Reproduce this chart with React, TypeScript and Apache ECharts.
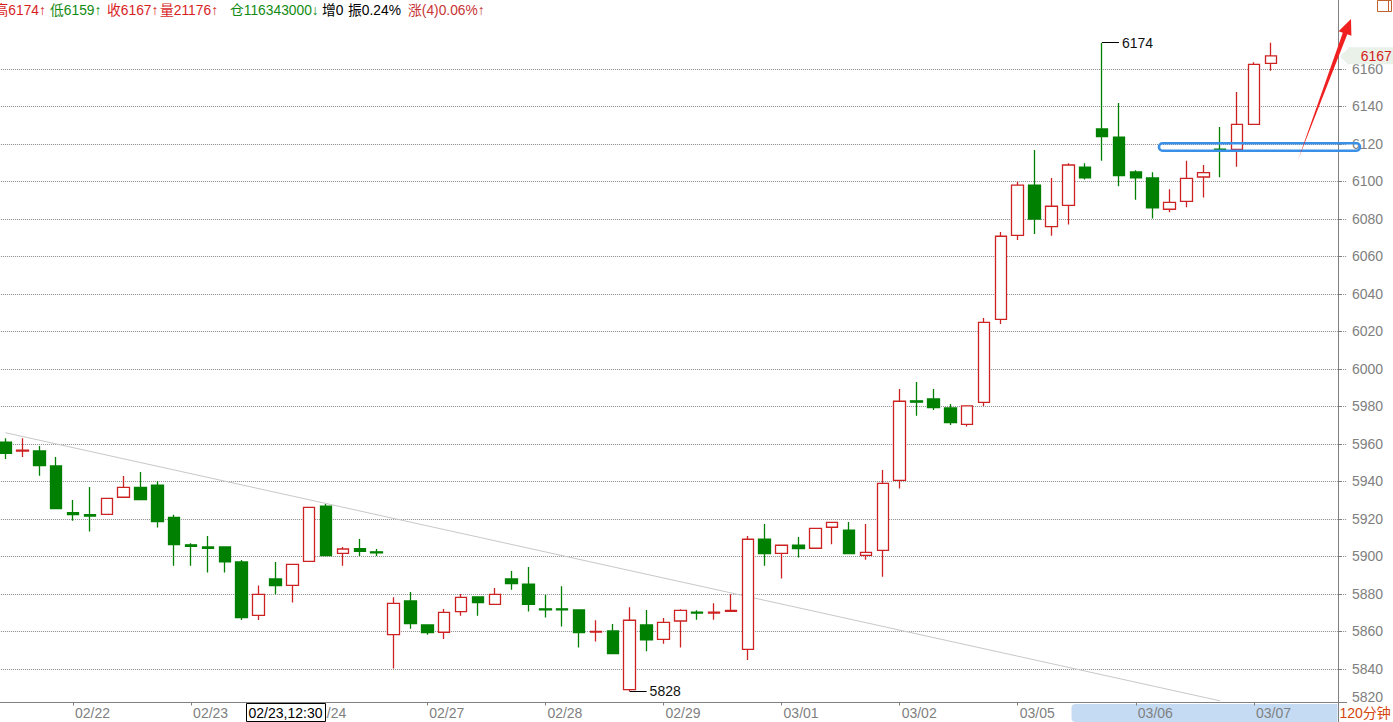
import { useEffect, useRef } from 'react';
import * as echarts from 'echarts';

// ---------- data ----------
const dayNames = ['02/21', '02/22', '02/23', '02/24', '02/27', '02/28', '02/29', '03/01', '03/02', '03/05', '03/06', '03/07'];
const barsPerDay = [4, 7, 7, 7, 7, 7, 7, 7, 7, 7, 7, 2];
const emptySlots = 4;

// [open, close, low, high]
const candles: number[][] = [
  [5961, 5955, 5952, 5963],
  [5956.2, 5956.7, 5953, 5963],
  [5956.3, 5948.5, 5943.1, 5958.9],
  [5948.3, 5925.5, 5925.5, 5953.1],
  [5923.4, 5922.3, 5919.1, 5930.1],
  [5922.3, 5921.6, 5913.3, 5937.1],
  [5922.5, 5931.0, 5922.5, 5931.0],
  [5931.6, 5936.9, 5931.6, 5942.9],
  [5936.9, 5930.3, 5930.3, 5945.1],
  [5938.1, 5918.6, 5915.4, 5940.1],
  [5920.9, 5906.3, 5895.1, 5922.2],
  [5906.2, 5905.4, 5895.1, 5907.0],
  [5905.1, 5904.3, 5891.4, 5910.9],
  [5905.1, 5897.2, 5891.4, 5905.1],
  [5897.1, 5867.4, 5866.1, 5898.1],
  [5868.6, 5879.8, 5866.1, 5884.5],
  [5888.0, 5884.5, 5879.8, 5897.1],
  [5884.6, 5895.8, 5875.4, 5895.8],
  [5897.4, 5926.2, 5897.4, 5926.2],
  [5926.9, 5900.5, 5900.5, 5928.0],
  [5901.7, 5904.0, 5895.1, 5905.1],
  [5904.2, 5902.8, 5900.3, 5909.3],
  [5902.5, 5901.9, 5900.3, 5904.0],
  [5858.3, 5875.0, 5840.2, 5878.2],
  [5876.3, 5864.2, 5861.5, 5881.1],
  [5863.5, 5859.4, 5858.3, 5863.5],
  [5859.6, 5870.2, 5856.0, 5872.0],
  [5870.6, 5878.2, 5868.4, 5880.0],
  [5878.4, 5875.4, 5868.4, 5878.4],
  [5874.5, 5879.8, 5874.5, 5883.2],
  [5888.0, 5885.5, 5882.3, 5892.3],
  [5885.3, 5874.5, 5870.6, 5894.4],
  [5872.1, 5871.5, 5867.4, 5879.6],
  [5872.1, 5871.5, 5862.6, 5884.1],
  [5871.5, 5859.4, 5851.4, 5871.5],
  [5859.7, 5860.1, 5854.6, 5866.0],
  [5860.3, 5848.2, 5848.2, 5864.0],
  [5829.0, 5866.0, 5828.0, 5872.9],
  [5863.5, 5855.6, 5849.4, 5871.5],
  [5855.8, 5864.9, 5853.5, 5867.2],
  [5865.6, 5871.3, 5851.4, 5871.8],
  [5870.3, 5869.8, 5866.3, 5871.3],
  [5869.8, 5870.3, 5866.3, 5875.0],
  [5870.8, 5871.3, 5870.8, 5879.8],
  [5850.5, 5909.2, 5844.8, 5910.9],
  [5909.3, 5901.5, 5895.1, 5917.3],
  [5901.7, 5906.0, 5888.2, 5906.0],
  [5906.1, 5904.2, 5899.4, 5910.4],
  [5904.4, 5915.0, 5904.4, 5915.0],
  [5915.6, 5918.2, 5906.5, 5918.2],
  [5914.1, 5901.5, 5901.5, 5918.4],
  [5900.6, 5902.2, 5898.3, 5917.3],
  [5903.3, 5939.0, 5889.2, 5946.1],
  [5940.6, 5982.8, 5936.2, 5989.3],
  [5983.0, 5982.3, 5975.1, 5993.1],
  [5984.0, 5979.4, 5978.1, 5989.3],
  [5979.2, 5971.4, 5970.1, 5981.3],
  [5970.5, 5980.3, 5969.3, 5980.3],
  [5982.2, 6024.9, 5980.3, 6027.2],
  [6026.5, 6070.8, 6024.0, 6073.1],
  [6071.3, 6098.1, 6068.8, 6099.9],
  [6098.1, 6080.0, 6072.0, 6116.8],
  [6075.9, 6086.8, 6071.1, 6101.9],
  [6087.3, 6108.8, 6077.0, 6109.7],
  [6107.7, 6102.0, 6101.0, 6109.7],
  [6128.0, 6123.9, 6111.1, 6174.0],
  [6123.7, 6103.1, 6097.4, 6141.9],
  [6105.1, 6102.0, 6090.3, 6106.0],
  [6101.9, 6086.0, 6080.2, 6104.9],
  [6085.2, 6088.9, 6083.6, 6095.8],
  [6089.4, 6101.7, 6086.2, 6111.0],
  [6102.4, 6104.7, 6091.4, 6108.8],
  [6117.2, 6116.8, 6102.2, 6129.1],
  [6117.1, 6130.5, 6107.9, 6147.7],
  [6130.5, 6162.5, 6130.5, 6163.6],
  [6163.0, 6167.0, 6159.0, 6174.0],
];

const yLabelValues = [5820, 5840, 5860, 5880, 5900, 5920, 5940, 5960, 5980, 6000, 6020, 6040, 6060, 6080, 6100, 6120, 6140, 6160];
const yGridValues = [5840, 5860, 5880, 5900, 5920, 5940, 5960, 5980, 6000, 6020, 6040, 6060, 6080, 6100, 6120, 6140, 6160];

const highMark = { index: 65, value: 6174 };
const lowMark = { index: 37, value: 5828 };
const lastPrice = 6167;
const trendLine = [[0, 5966], [72, 5823]];

const headerParts = [
  { text: '高6174↑', color: '#d81e1e' },
  { text: '低6159↑', color: '#138a13' },
  { text: '收6167↑', color: '#d81e1e' },
  { text: '量21176↑', color: '#d81e1e' },
  { text: '仓116343000↓', color: '#138a13' },
  { text: '增0', color: '#000000' },
  { text: '振0.24%', color: '#000000' },
  { text: '涨(4)0.06%↑', color: '#c83434' },
];
const headerX = [-5.5, 50, 107, 160, 230, 322, 348, 408];

const cursorLabel = '02/23,12:30';
const periodLabel = '120分钟';

const FONT = "'Liberation Sans', Arial, 'Noto Sans CJK SC', sans-serif";
const UP = '#cc2222';
const DOWN = '#008000';

export default function App() {
  const ref = useRef<HTMLDivElement>(null);

  useEffect(() => {
    if (!ref.current) return;
    const chart = echarts.init(ref.current, null, { renderer: 'svg' });

    const categories: string[] = [];
    dayNames.forEach((d, di) => {
      for (let k = 0; k < barsPerDay[di]; k++) categories.push(`${d}#${k}`);
    });
    for (let k = 0; k < emptySlots; k++) categories.push(`#e${k}`);
    const isDayStart = (i: number) => {
      const c = categories[i] || '';
      return c.endsWith('#0') && !c.startsWith('#') && !c.startsWith(dayNames[0]);
    };

    const band = 16.87;
    const gridLeft = -2.9;
    const gridRightEdge = gridLeft + categories.length * band;
    const axisX = 1338;

    const headerGraphics = headerParts.map((p, i) => ({
      type: 'text',
      x: headerX[i],
      y: 10,
      silent: true,
      style: {
        text: p.text,
        fill: p.color,
        fontSize: 13.8,
        fontFamily: FONT,
        verticalAlign: 'middle',
        textVerticalAlign: 'middle',
      },
    }));

    const option: any = {
      animation: false,
      backgroundColor: '#ffffff',
      textStyle: { fontFamily: FONT },
      grid: {
        left: gridLeft,
        right: 1393 - gridRightEdge,
        top: 0,
        bottom: 0,
        outerBoundsMode: 'none',
      },
      xAxis: {
        type: 'category',
        data: categories,
        boundaryGap: true,
        offset: -19.5,
        axisLine: { show: true, lineStyle: { color: '#808080', width: 1 } },
        axisTick: {
          show: true,
          alignWithLabel: true,
          length: 3,
          interval: (i: number) => isDayStart(i),
          lineStyle: { color: '#808080' },
        },
        axisLabel: {
          show: true,
          interval: (i: number) => isDayStart(i),
          formatter: (v: string) => v.split('#')[0],
          align: 'left',
          color: '#808080',
          fontSize: 14,
          fontFamily: FONT,
          margin: 3,
          padding: [0, 0, 0, 2],
        },
        splitLine: { show: false },
      },
      yAxis: {
        type: 'value',
        position: 'right',
        min: 5811.73,
        max: 6196.8,
        offset: axisX - gridRightEdge,
        axisLine: { show: true, lineStyle: { color: '#808080', width: 1 } },
        axisTick: {
          show: true,
          length: 4,
          customValues: yGridValues,
          lineStyle: { color: '#808080' },
        },
        axisLabel: {
          show: true,
          customValues: yLabelValues,
          color: '#808080',
          fontSize: 14,
          fontFamily: FONT,
          margin: 14,
          formatter: (v: number) => (v === 5820 ? '{lo|5820}' : String(v)),
          rich: {
            lo: { padding: [0, 0, 19, 0], color: '#808080', fontSize: 14, fontFamily: FONT },
          },
        },
        splitLine: { show: true, lineStyle: { color: '#8a8a8a', type: [1, 1], width: 1 } },
      },
      series: [
        {
          type: 'line',
          data: trendLine,
          symbol: 'none',
          silent: true,
          z: 1,
          lineStyle: { color: '#c8c8c8', width: 1 },
        },
        {
          type: 'candlestick',
          data: candles.map((c) => c.slice()),
          barWidth: 12,
          z: 3,
          itemStyle: {
            color: '#ffffff',
            color0: DOWN,
            borderColor: UP,
            borderColor0: DOWN,
            borderWidth: 1.3,
          },
          markLine: {
            silent: true,
            symbol: ['none', 'none'],
            animation: false,
            data: [
              [
                {
                  coord: [highMark.index, highMark.value],
                  lineStyle: { color: '#000', type: 'solid', width: 1 },
                  label: {
                    show: true,
                    position: 'end',
                    formatter: String(highMark.value),
                    color: '#111',
                    fontSize: 14,
                    fontFamily: FONT,
                    distance: 3,
                  },
                },
                { coord: [highMark.index + 1, highMark.value] },
              ],
              [
                {
                  coord: [lowMark.index, lowMark.value],
                  lineStyle: { color: '#000', type: 'solid', width: 1 },
                  label: {
                    show: true,
                    position: 'end',
                    formatter: String(lowMark.value),
                    color: '#111',
                    fontSize: 14,
                    fontFamily: FONT,
                    distance: 3,
                  },
                },
                { coord: [lowMark.index + 1, lowMark.value] },
              ],
              {
                yAxis: lastPrice,
                lineStyle: { color: 'rgba(255,255,255,0)', width: 1, type: 'solid' },
                label: {
                  show: true,
                  position: 'end',
                  formatter: String(lastPrice),
                  color: '#d42020',
                  fontSize: 14,
                  fontFamily: FONT,
                  backgroundColor: '#e9f1e9',
                  padding: [2, 2, 1, 13],
                  distance: 1,
                },
              },
            ],
          },
        },
      ],
      graphic: [
        // bottom scroll highlight
        {
          type: 'rect',
          z: -10,
          silent: true,
          shape: { x: 1071.5, y: 704, width: 266, height: 18, r: [4, 0, 0, 4] },
          style: { fill: '#c5dbf4' },
        },
        // price tag arrow tip
        {
          type: 'polygon',
          silent: true,
          z: 50,
          shape: { points: [[1340, 56.5], [1348.5, 48], [1348.5, 65]] },
          style: { fill: '#e9f1e9' },
        },
        // cursor time label
        {
          type: 'rect',
          silent: true,
          z: 50,
          shape: { x: 246.5, y: 703.5, width: 79, height: 18 },
          style: { fill: '#ffffff', stroke: '#000000', lineWidth: 1 },
        },
        {
          type: 'text',
          silent: true,
          z: 51,
          x: 248.5,
          y: 713,
          style: {
            text: cursorLabel,
            fill: '#000',
            fontSize: 14,
            fontFamily: FONT,
            verticalAlign: 'middle',
            textVerticalAlign: 'middle',
          },
        },
        // period label
        {
          type: 'text',
          silent: true,
          z: 50,
          x: 1339.5,
          y: 712.5,
          style: {
            text: periodLabel,
            fill: '#d4460c',
            fontSize: 14,
            fontFamily: FONT,
            verticalAlign: 'middle',
            textVerticalAlign: 'middle',
          },
        },
        // highlighted box at 6120
        {
          type: 'rect',
          silent: true,
          z: 60,
          shape: { x: 1159, y: 143.3, width: 201, height: 7.4, r: 3.5 },
          style: { fill: 'rgba(0,0,0,0)', stroke: '#3a8fe6', lineWidth: 2.6 },
        },
        // red arrow
        {
          type: 'polygon',
          silent: true,
          z: 60,
          shape: {
            points: [
              [1298, 160],
              [1342.8, 32.8],
              [1338.6, 31.2],
              [1351, 19],
              [1351.4, 35.8],
              [1347.3, 34.2],
            ],
          },
          style: { fill: '#f02020' },
        },
        // top-right icon
        {
          type: 'rect',
          silent: true,
          z: 60,
          shape: { x: 1377.5, y: 0.5, width: 14, height: 11 },
          style: { fill: '#fff', stroke: '#c0622e', lineWidth: 1 },
        },
        {
          type: 'line',
          silent: true,
          z: 60,
          shape: { x1: 1388.5, y1: 0.5, x2: 1388.5, y2: 11.5 },
          style: { stroke: '#c0622e', lineWidth: 1 },
        },
        ...headerGraphics,
      ],
    };

    chart.setOption(option);
    return () => {
      chart.dispose();
    };
  }, []);

  return (
    <div
      ref={ref}
      style={{ position: 'fixed', left: 0, top: 0, width: 1393, height: 722 }}
    />
  );
}
